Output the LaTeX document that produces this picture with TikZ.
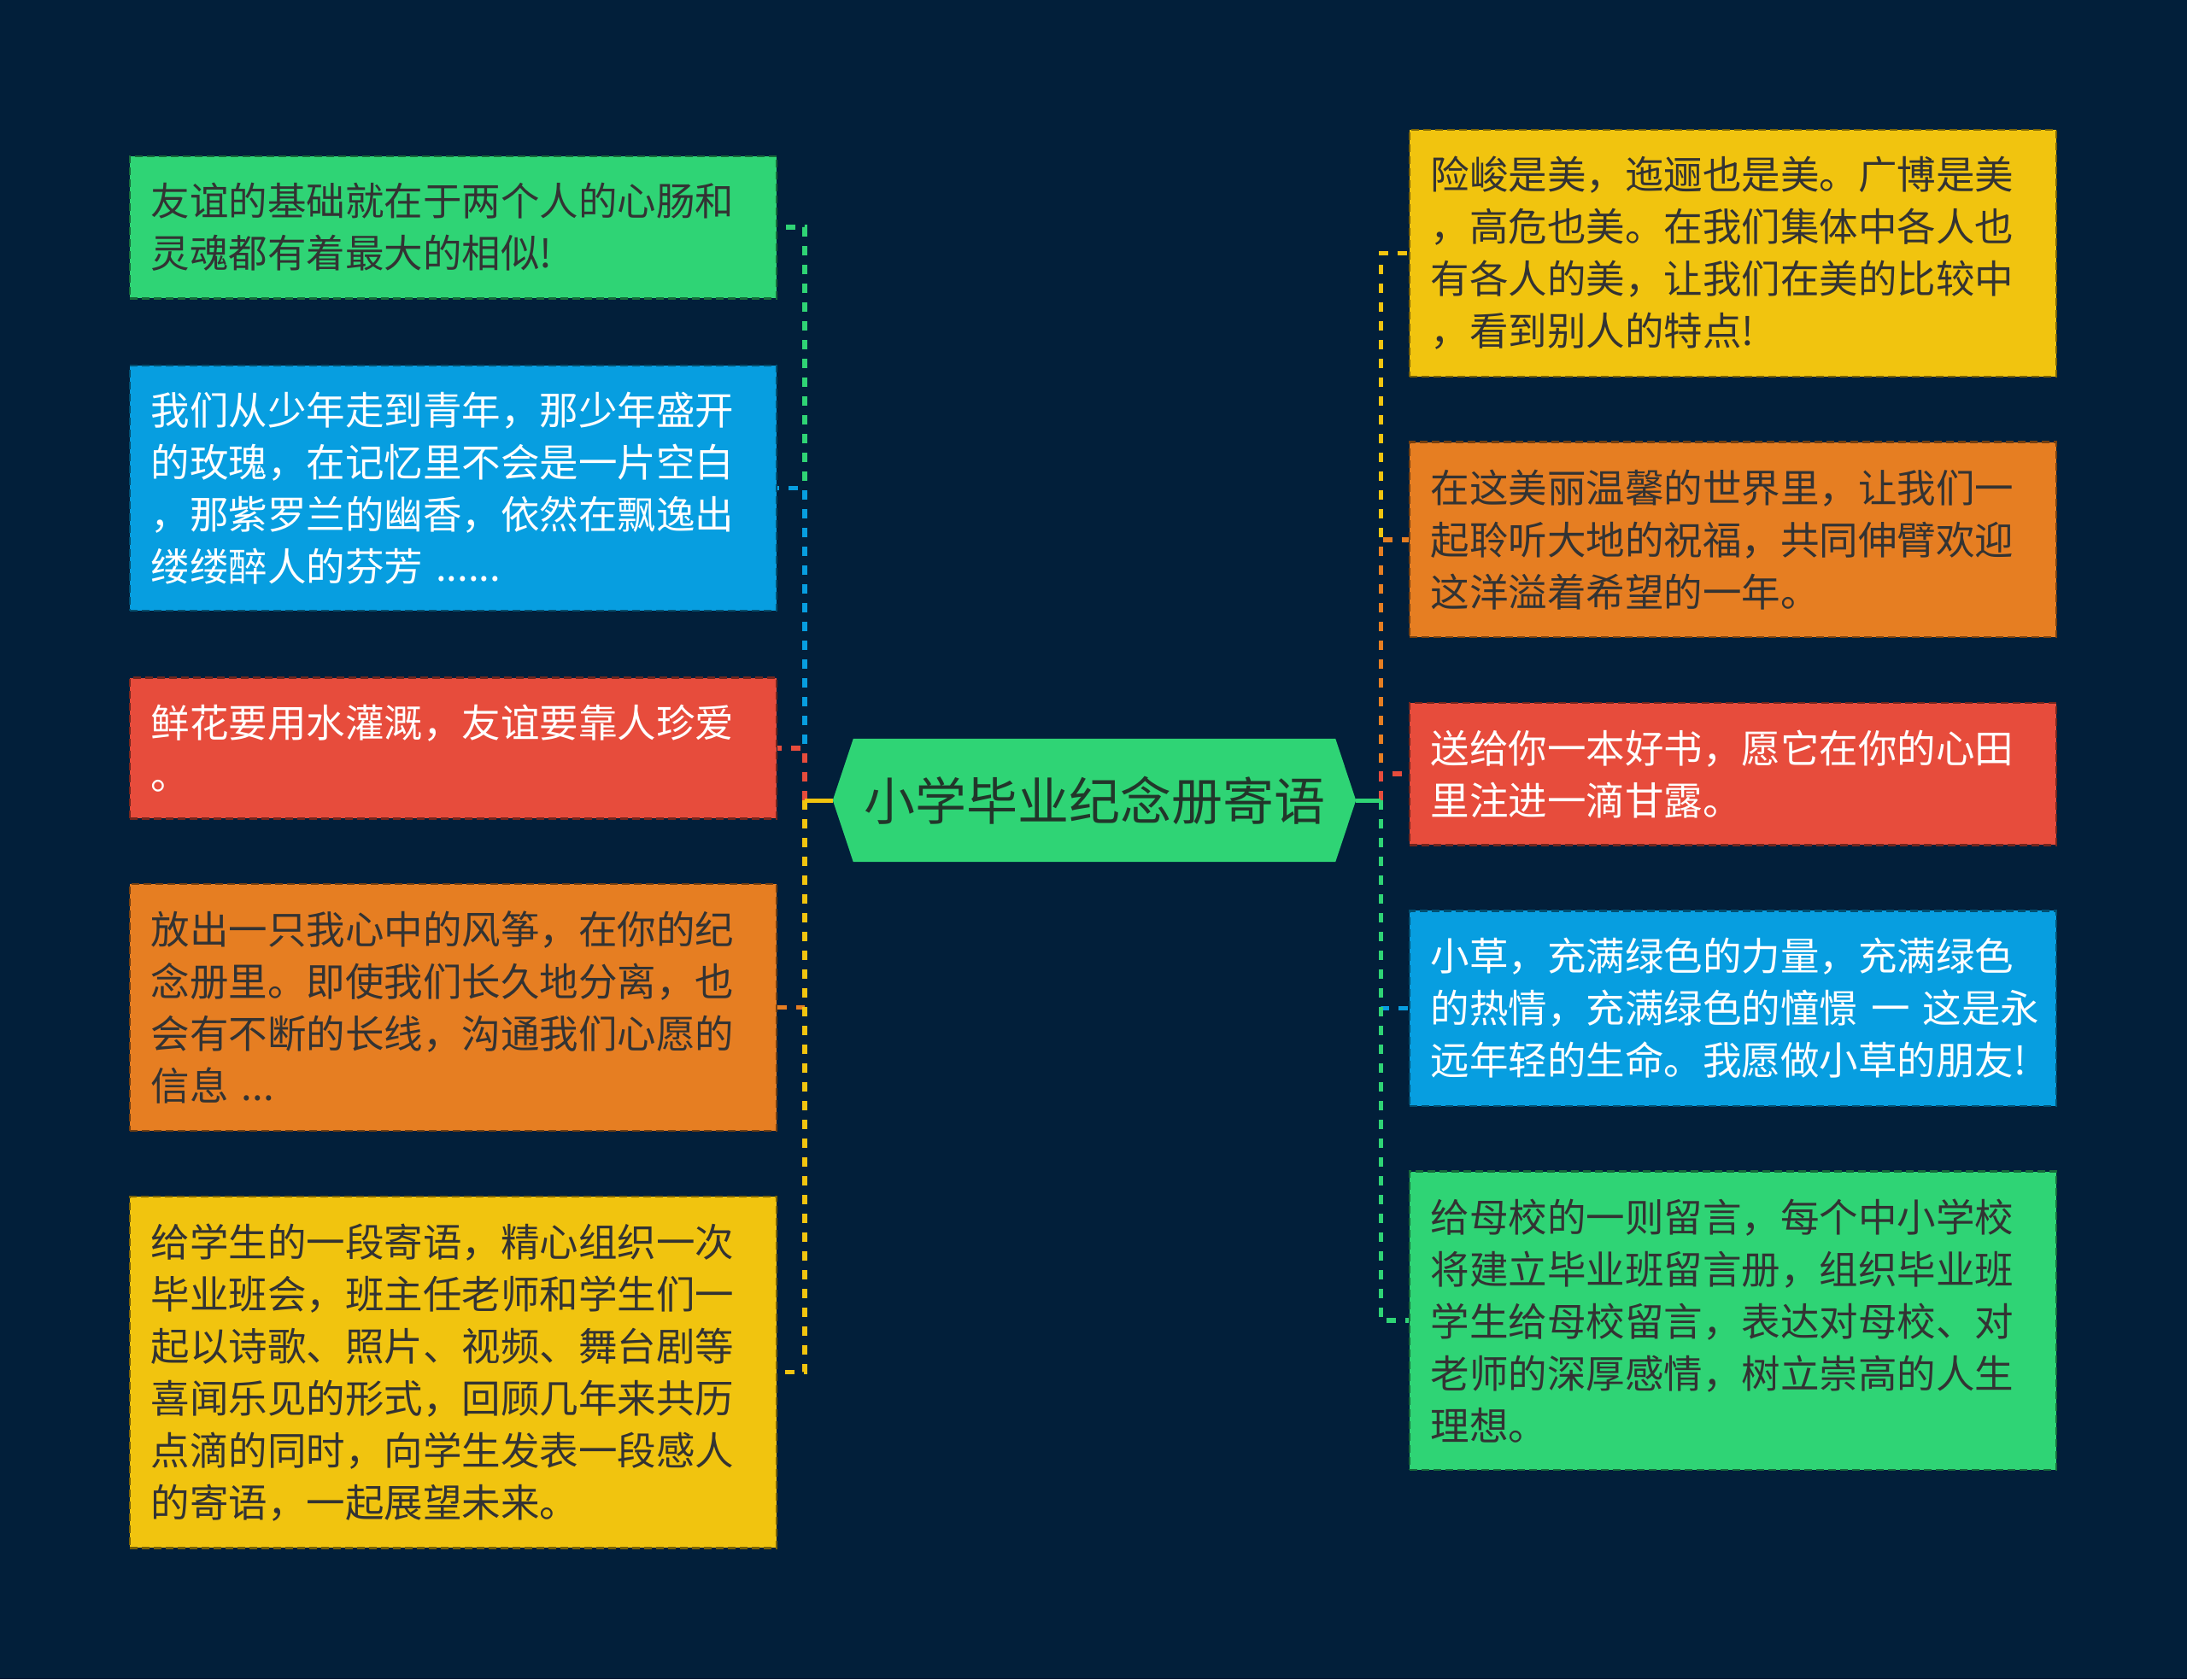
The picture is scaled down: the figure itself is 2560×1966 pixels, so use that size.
\documentclass[tikz,border=0pt]{standalone}
\usepackage{fontspec}
\setmainfont{Noto Sans CJK SC}
\usetikzlibrary{calc}
\definecolor{bg}{HTML}{021F3A}
\definecolor{cgreen}{HTML}{2FD475}
\definecolor{cblue}{HTML}{079EE0}
\definecolor{cred}{HTML}{E74C3C}
\definecolor{corange}{HTML}{E67E22}
\definecolor{cyellow}{HTML}{F1C40F}
\definecolor{txtdark}{HTML}{333333}
\definecolor{ctrtxt}{HTML}{22362A}
\newcommand{\boxfont}{\fontsize{45.5}{61}\selectfont}
\tikzset{
  box/.style={rectangle, fill=#1, draw=#1!50!black, dash pattern=on 9pt off 5pt,
    line width=2.5pt, minimum width=757pt, text width=708pt, inner xsep=24.5pt,
    inner ysep=0pt, align=left, font=\boxfont, text=txtdark},
  lightbox/.style={box=#1, text=white},
  link/.style={draw=#1, line width=5.5pt, dash pattern=on 11pt off 11pt},
  hub/.style={draw=#1, line width=5pt},
}
\begin{document}
\begin{tikzpicture}[x=1pt,y=-1pt]
\fill[bg] (0,0) rectangle (2560,1966);
\useasboundingbox (0,0) rectangle (2560,1966);

% center node
\node (center) [minimum width=612pt, minimum height=144pt, inner sep=0pt,
  font=\fontsize{60}{70}\selectfont, text=ctrtxt] at (1281,937) {};
\fill[cgreen] (center.west) -- ($(center.north west)+(24,0)$) -- ($(center.north east)+(-24,0)$)
  -- (center.east) -- ($(center.south east)+(-24,0)$) -- ($(center.south west)+(24,0)$) -- cycle;
\node [font=\fontsize{60}{70}\selectfont, text=ctrtxt] at (center) {小学毕业纪念册寄语};

% left boxes
\node (L1) [box=cgreen, minimum height=166.5pt] at (530.6,266.2)
  {友谊的基础就在于两个人的心肠和\\灵魂都有着最大的相似!};
\node (L2) [lightbox=cblue, minimum height=287.3pt] at (530.6,571.5)
  {我们从少年走到青年，那少年盛开\\的玫瑰，在记忆里不会是一片空白\\，那紫罗兰的幽香，依然在飘逸出\\缕缕醉人的芬芳 ......};
\node (L3) [lightbox=cred, minimum height=164.9pt] at (530.6,876)
  {鲜花要用水灌溉，友谊要靠人珍爱\\。};
\node (L4) [box=corange, minimum height=289pt] at (530.6,1179.6)
  {放出一只我心中的风筝，在你的纪\\念册里。即使我们长久地分离，也\\会有不断的长线，沟通我们心愿的\\信息 ...};
\node (L5) [box=cyellow, minimum height=411.4pt] at (530.6,1606.6)
  {给学生的一段寄语，精心组织一次\\毕业班会，班主任老师和学生们一\\起以诗歌、照片、视频、舞台剧等\\喜闻乐见的形式，回顾几年来共历\\点滴的同时，向学生发表一段感人\\的寄语，一起展望未来。};

% right boxes
\node (R1) [box=cyellow, minimum height=289pt] at (2028.6,296.3)
  {险峻是美，迤逦也是美。广博是美\\，高危也美。在我们集体中各人也\\有各人的美，让我们在美的比较中\\，看到别人的特点!};
\node (R2) [box=corange, minimum height=228.5pt] at (2028.6,631.9)
  {在这美丽温馨的世界里，让我们一\\起聆听大地的祝福，共同伸臂欢迎\\这洋溢着希望的一年。};
\node (R3) [lightbox=cred, minimum height=166.5pt] at (2028.6,906.2)
  {送给你一本好书，愿它在你的心田\\里注进一滴甘露。};
\node (R4) [lightbox=cblue, minimum height=228.5pt] at (2028.6,1180.5)
  {小草，充满绿色的力量，充满绿色\\\mbox{的热情，充满绿色的憧憬 一 这是永}\\远年轻的生命。我愿做小草的朋友!};
\node (R5) [box=cgreen, minimum height=349.4pt] at (2028.6,1546.2)
  {给母校的一则留言，每个中小学校\\将建立毕业班留言册，组织毕业班\\学生给母校留言，表达对母校、对\\老师的深厚感情，树立崇高的人生\\理想。};

% bus coordinates
\coordinate (busL) at (942,937);
\coordinate (busR) at (1616.4,937);

% left connectors (drawing order decides visible colours)
\foreach \n/\c in {L1/cgreen, L2/cblue, L3/cred, L4/corange, L5/cyellow}{
  \draw[hub=\c] (center.west) -- (busL);
  \draw[link=\c] (busL) |- (\n.east);
}
% right connectors
\foreach \n/\c in {R1/cyellow, R2/corange, R3/cred, R4/cblue, R5/cgreen}{
  \draw[hub=\c] (center.east) -- (busR);
  \draw[link=\c] (busR) |- (\n.west);
}
\end{tikzpicture}
\end{document}
